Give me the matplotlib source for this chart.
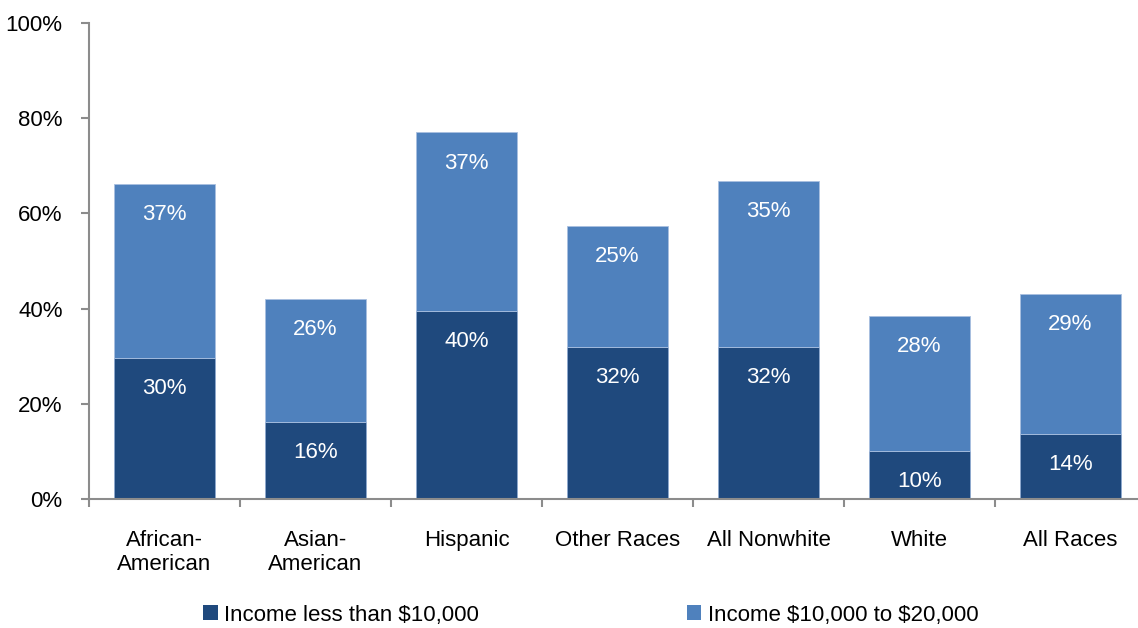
import numpy as np
import matplotlib.pyplot as plt
from matplotlib.patches import Patch

plt.rcParams['font.family'] = ['Liberation Sans', 'DejaVu Sans']

categories = ['African-\nAmerican', 'Asian-\nAmerican', 'Hispanic', 'Other Races',
              'All Nonwhite', 'White', 'All Races']
low_income = [29.6, 16.2, 39.6, 31.9, 31.9, 10.1, 13.7]      # Income less than $10,000
mid_income = [36.6, 25.8, 37.4, 25.4, 34.9, 28.3, 29.4]      # Income $10,000 to $20,000
series_names = [r'Income less than \$10,000', r'Income \$10,000 to \$20,000']
yticks = [0, 20, 40, 60, 80, 100]

c_dark = '#1F497D'
c_light = '#4F81BD'
c_axis = '#8C8C8C'

fig = plt.figure(figsize=(11.38, 6.28), dpi=100)
ax = fig.add_axes([89 / 1138, 129 / 628, 1057 / 1138, 476 / 628])

x = np.arange(len(categories))
low = np.array(low_income)
mid = np.array(mid_income)
ax.bar(x, low, width=0.67, color=c_dark, edgecolor='#8FAAD0', linewidth=0.6)
ax.bar(x, mid, width=0.67, bottom=low, color=c_light, edgecolor='#A9C0E0', linewidth=0.6)

# etiquetas dentro del extremo superior de cada segmento
for i in range(len(x)):
    ax.annotate(f'{low[i]:.0f}%', (x[i], low[i]), xytext=(0, -22), textcoords='offset points',
                ha='center', va='center', color='white', fontsize=16)
    ax.annotate(f'{mid[i]:.0f}%', (x[i], low[i] + mid[i]), xytext=(0, -22), textcoords='offset points',
                ha='center', va='center', color='white', fontsize=16)

ax.set_xlim(-0.5, len(categories) - 0.5)
ax.set_ylim(0, 100)
ax.set_yticks(yticks)
ax.set_yticklabels([f'{t}%' for t in yticks])
ax.set_xticks(x)
ax.set_xticklabels(categories, linespacing=1.2)
ax.set_xticks(np.arange(len(categories) + 1) - 0.5, minor=True)

for s in ['top', 'right']:
    ax.spines[s].set_visible(False)
for s in ['left', 'bottom']:
    ax.spines[s].set_color(c_axis)
    ax.spines[s].set_linewidth(1.5)

ax.tick_params(axis='y', direction='out', length=6, width=1.5, color=c_axis,
               labelsize=16, pad=13)
ax.tick_params(axis='x', which='major', length=0, labelsize=16, pad=22)
ax.tick_params(axis='x', which='minor', direction='out', length=6, width=1.5, color=c_axis)

handles = [Patch(facecolor=c_dark, edgecolor='none'), Patch(facecolor=c_light, edgecolor='none')]
fig.legend(handles, series_names, loc='center', bbox_to_anchor=(591 / 1138, 1 - 615 / 628),
           ncol=2, frameon=False, fontsize=16, handlelength=0.65, handleheight=0.65,
           handletextpad=0.3, columnspacing=9.35)

fig.savefig('out.png', dpi=100)
